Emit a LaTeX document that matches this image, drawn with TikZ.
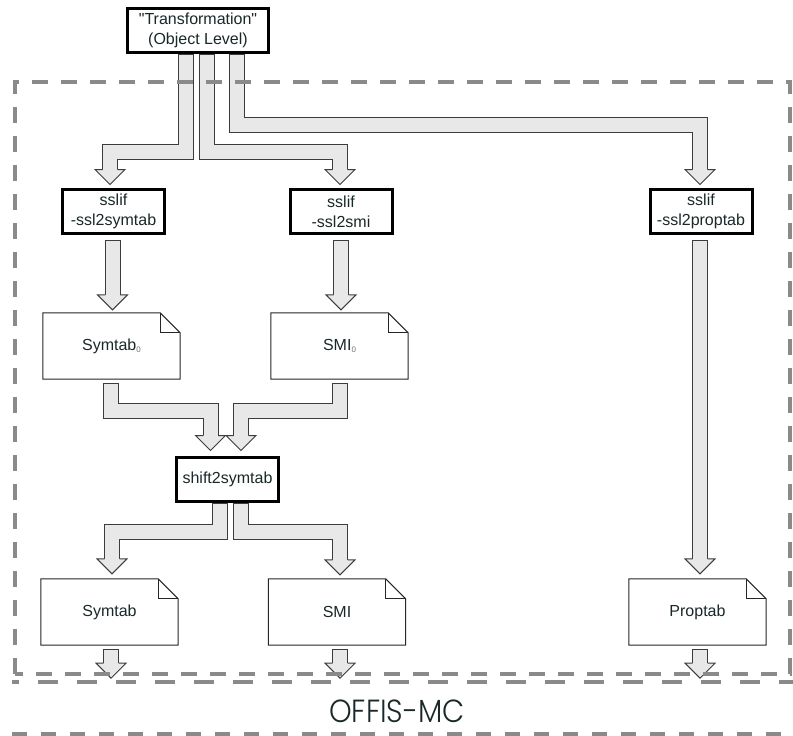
\documentclass[tikz,border=0pt]{standalone}
\usepackage{fontspec}
\setmainfont{Liberation Sans}[Ligatures=TeXOff]
\newfontfamily\offisfont{Poppins}[UprightFont=* Light]
\usetikzlibrary{calc}
\definecolor{txt}{RGB}{25,40,40}
\definecolor{pipefill}{RGB}{232,232,232}
\definecolor{pipeedge}{RGB}{60,60,60}
\definecolor{dashgray}{RGB}{138,138,138}
\pgfdeclarelayer{bg}
\pgfdeclarelayer{mid}
\pgfdeclarelayer{fg}
\pgfsetlayers{bg,mid,main,fg}
\tikzset{
  procbox/.style={draw=black, fill=white, line width=3pt, minimum width=102pt, minimum height=44pt,
    align=center, font=\fontsize{16}{20}\selectfont, text=txt, inner sep=0pt},
  docbox/.style={minimum width=137pt, minimum height=66pt, font=\fontsize{16}{20}\selectfont,
    text=txt, inner sep=0pt},
  docline/.style={draw=black!85, line width=1pt, fill=white, line join=miter},
  po/.style={draw=pipeedge, line width=16pt, line join=miter},
  pi/.style={draw=pipefill, line width=14pt, line join=miter},
  headline/.style={draw=pipeedge, line width=1pt, line join=miter},
  framebox/.style={draw=dashgray, line width=4.5pt, dash pattern=on 16pt off 13pt},
}
\newcommand\fathead[1]{%
  \fill[pipefill] ($(#1)+(-15,-15)$) -- (#1) -- ($(#1)+(15,-15)$) -- cycle;
  \draw[headline] ($(#1)+(-7.5,-15)$) -- ($(#1)+(-15,-15)$) -- (#1) -- ($(#1)+(15,-15)$) -- ($(#1)+(7.5,-15)$);}
\newcommand\fatpipe[3]{%
  \draw[po] (#1) -- (#1 |- #2) -- (#3 |- #2) -- ($(#3)+(0,-14)$);
  \draw[pi] ($(#1)+(0,1)$) -- (#1 |- #2) -- (#3 |- #2) -- ($(#3)+(0,-14)$);
  \fathead{#3}}
\newcommand\fatstraight[2]{%
  \draw[po] (#1) -- ($(#2)+(0,-14)$);
  \draw[pi] ($(#1)+(0,1)$) -- ($(#2)+(0,-14)$);
  \fathead{#2}}
\newcommand\docshape[1]{%
  \draw[docline] (#1.south west) -- (#1.north west) -- ($(#1.north east)+(-20,0)$)
    -- ($(#1.north east)+(0,20)$) -- (#1.south east) -- cycle;
  \draw[docline, fill=none] ($(#1.north east)+(-20,0)$) -- ($(#1.north east)+(-20,20)$) -- ($(#1.north east)+(0,20)$);}
\newcommand\zsub[1]{\raisebox{-2pt}{\fontsize{8}{8}\selectfont\color{black!55}#1}}
\begin{document}
\begin{tikzpicture}[x=1pt,y=-1pt]
\useasboundingbox (0,0) rectangle (793,736);
% process boxes
\node[procbox, minimum width=141pt] (top) at (198,30.5) {"Transformation"\\(Object Level)};
\node[procbox] (b1) at (113.5,211.5) {sslif\\-ssl2symtab};
\node[procbox] (b2) at (341,211.5) {sslif\\-ssl2smi};
\node[procbox] (b3) at (701,211.5) {sslif\\-ssl2proptab};
\node[procbox] (s) at (227.5,479.5) {shift2symtab};
% documents
\node[docbox] (d1) at (111.5,346) {Symtab\zsub{0}};
\node[docbox] (d2) at (339.5,346) {SMI\zsub{0}};
\node[docbox] (d3) at (109.5,612) {Symtab};
\node[docbox] (d4) at (337,612) {SMI};
\node[docbox] (d5) at (697.5,612) {Proptab};
\begin{pgfonlayer}{mid}
  \docshape{d1}\docshape{d2}\docshape{d3}\docshape{d4}\docshape{d5}
\end{pgfonlayer}
% levels of horizontal runs
\coordinate (L1) at (0,152);
\coordinate (L2) at (0,125);
\coordinate (L3) at (0,411);
\coordinate (L4) at (0,532);
% start and tip points
\coordinate (a1) at ($(top.south)+(-12.5,0)$);
\coordinate (t1) at ($(b1.north)+(-3.5,-3.5)$);
\coordinate (a2) at ($(top.south)+(8.5,0)$);
\coordinate (t2) at ($(b2.north)+(-1,-3.5)$);
\coordinate (a3) at ($(top.south)+(39,0)$);
\coordinate (t3) at ($(b3.north)+(-1,-3.5)$);
\coordinate (a4) at ($(b1.south)+(-1,4.5)$);
\coordinate (t4) at ($(a4 |- d1.north)+(0,-3)$);
\coordinate (a5) at ($(b2.south)+(0,4.5)$);
\coordinate (t5) at ($(a5 |- d2.north)+(0,-3)$);
\coordinate (a6) at ($(b3.south)+(-1,5)$);
\coordinate (t6) at ($(a6 |- d5.north)+(0,-5)$);
\coordinate (a7) at ($(d1.south)+(-0.5,4)$);
\coordinate (t7) at ($(s.north)+(-17,-5.5)$);
\coordinate (a8) at ($(d2.south)+(0.5,4)$);
\coordinate (t8) at ($(s.north)+(13.5,-5.5)$);
\coordinate (a9) at ($(s.south)+(-7.5,0)$);
\coordinate (t9) at ($(d3.north)+(2.5,-5)$);
\coordinate (a10) at ($(s.south)+(13,0)$);
\coordinate (t10) at ($(d4.north)+(3,-4)$);
\coordinate (a11) at ($(d3.south)+(1.5,4)$);
\coordinate (t11) at ($(a11)+(0,29)$);
\coordinate (a12) at ($(d4.south)+(3,4)$);
\coordinate (t12) at ($(a12)+(0,29)$);
\coordinate (a13) at ($(d5.south)+(2.5,4)$);
\coordinate (t13) at ($(a13)+(0,29)$);
\begin{pgfonlayer}{bg}
  \fatpipe{a3}{L2}{t3}
  \fatpipe{a1}{L1}{t1}
  \fatpipe{a2}{L1}{t2}
  \fatstraight{a4}{t4}
  \fatstraight{a5}{t5}
  \fatstraight{a6}{t6}
  \fatpipe{a7}{L3}{t7}
  \fatpipe{a8}{L3}{t8}
  \fatpipe{a9}{L4}{t9}
  \fatpipe{a10}{L4}{t10}
  \fatstraight{a11}{t11}
  \fatstraight{a12}{t12}
  \fatstraight{a13}{t13}
\end{pgfonlayer}
% OFFIS-MC label
\node[font=\offisfont\fontsize{32}{32}\selectfont, text=txt, inner sep=0pt] (offis) at (397,711.5) {\scalebox{0.9}[1]{OFFIS-MC}};
\begin{pgfonlayer}{fg}
  \draw[framebox] (15,674) -- (15,82) -- (790,82) -- (790,674) -- cycle;
  \coordinate (r2a) at (12,682); \coordinate (r2b) at (795,682);
  \draw[draw=dashgray, line width=4.5pt, dash pattern=on 20pt off 19pt, dash phase=13pt] (r2a) -- (r2b);
  \coordinate (r3a) at (12,734); \coordinate (r3b) at (795,734);
  \draw[draw=dashgray, line width=4.5pt, dash pattern=on 15pt off 14pt] (r3a) -- (r3b);
\end{pgfonlayer}
\end{tikzpicture}
\end{document}
